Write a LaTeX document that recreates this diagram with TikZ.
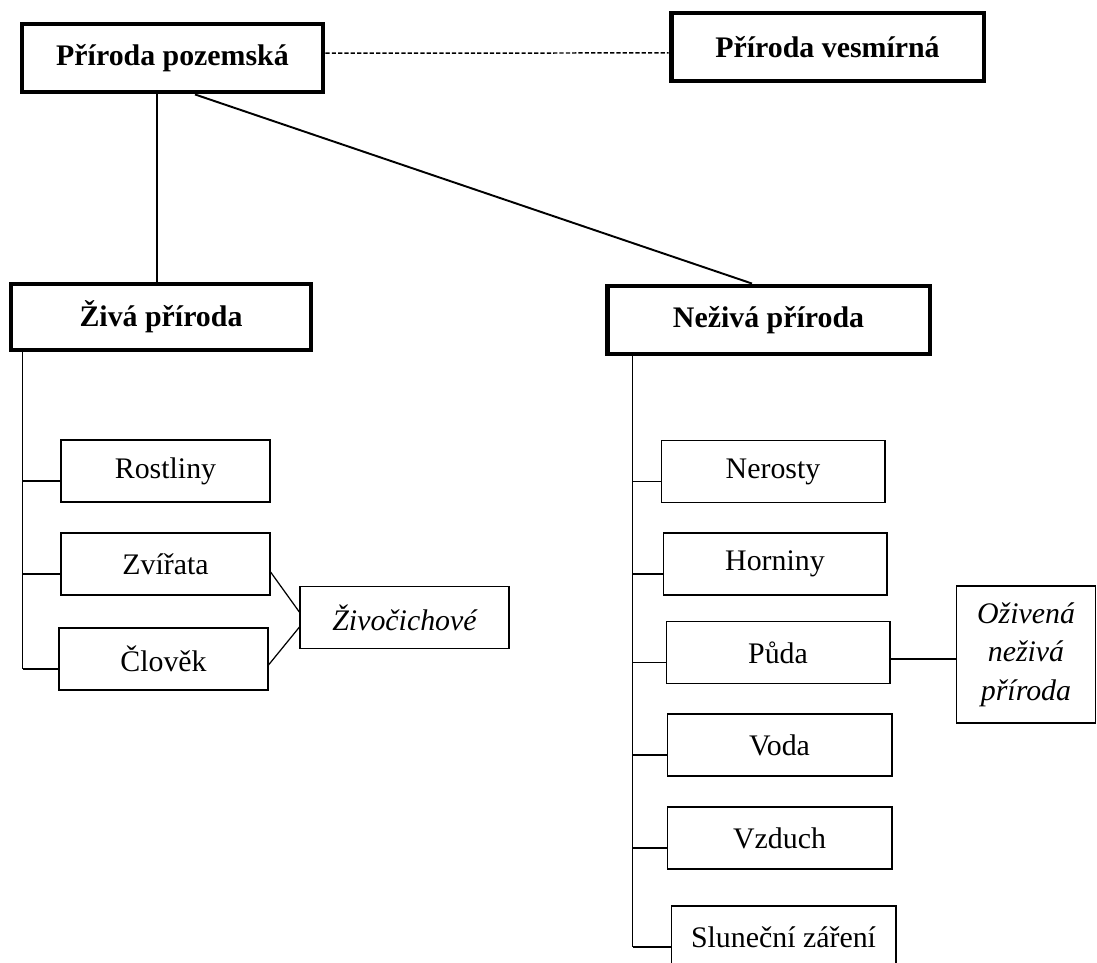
\documentclass[tikz,border=0pt]{standalone}
\usepackage{fontspec}
\setmainfont{Liberation Serif}
\begin{document}
\begin{tikzpicture}[x=0.02cm, y=-0.02cm,
    hlavni/.style={draw, line width=2.8pt, minimum height=1.36cm, font=\fontsize{17}{22}\selectfont\bfseries},
    polozka/.style={draw, line width=0.6pt, minimum width=4.18cm, minimum height=1.24cm, font=\fontsize{17}{22}\selectfont},
    poznamka/.style={polozka, font=\fontsize{17}{22}\selectfont\itshape},
    spoj/.style={line width=1.1pt},
    vetev/.style={line width=0.7pt}]

        \useasboundingbox (0,0) rectangle (1097,962);

        \node[hlavni, minimum width=6.02cm] (pozemska) at (172.5,58) {Příroda pozemská};
        \node[hlavni, minimum width=6.26cm] (vesmirna) at (827.5,47) {Příroda vesmírná};
        \node[hlavni, minimum width=6cm, minimum height=1.32cm] (ziva) at (161,317) {Živá příroda};
        \node[hlavni, minimum width=6.46cm] (neziva) at (768.5,320) {Neživá příroda};

        \node[polozka] (rostliny) at (165.5,471) {Rostliny};
        \node[polozka] (zvirata) at (165.5,564) {Zvířata};
        \node[polozka] (clovek) at (163.5,659) {Člověk};
        \node[poznamka] (zivocichove) at (404.5,617.5) {Živočichové};

        \node[polozka, minimum width=4.48cm] (nerosty) at (773,471.5) {Nerosty};
        \node[polozka, minimum width=4.48cm] (horniny) at (775,564) {Horniny};
        \node[polozka, minimum width=4.48cm] (puda) at (778,652.5) {Půda};
        \node[polozka, minimum width=4.5cm] (voda) at (779.5,745) {Voda};
        \node[polozka, minimum width=4.5cm] (vzduch) at (779.5,838) {Vzduch};
        \node[polozka, minimum width=4.5cm] (slunce) at (783.5,937) {Sluneční záření};
        \node[poznamka, minimum width=2.78cm, minimum height=2.74cm, align=center] (ozivena) at (1026,654.5) {Oživená\\neživá\\příroda};

        \draw[spoj, line width=0.85pt, dash pattern=on 2.4pt off 1.2pt] ([yshift=2.8pt]pozemska.east) -- ([yshift=-3.4pt]vesmirna.west);
        \draw[spoj] ([xshift=-9pt]pozemska.south) coordinate (p-v) -- (p-v |- ziva.north);
        \draw[spoj] ([xshift=12.8pt]pozemska.south) -- ([xshift=-9.4pt]neziva.north);

        \coordinate (zhore) at ([xshift=8pt]ziva.south west);
        \foreach \b in {rostliny,zvirata,clovek}
            \draw[vetev] ([yshift=-5.7pt]\b.west) coordinate (\b-v) -- (\b-v -| zhore);
        \draw[vetev] (zhore) -- (zhore |- clovek-v);

        \coordinate (nhore) at ([xshift=16pt]neziva.south west);
        \foreach \b in {nerosty,horniny,puda,voda,vzduch,slunce}
            \draw[vetev] ([yshift=-5.7pt]\b.west) coordinate (\b-v) -- (\b-v -| nhore);
        \draw[vetev] (nhore) -- (nhore |- slunce-v);

        \draw[vetev] ([yshift=-4.5pt]zvirata.east) -- ([yshift=3pt]zivocichove.west);
        \draw[vetev] ([yshift=-3.4pt]clovek.east) -- ([yshift=-5.4pt]zivocichove.west);
        \draw[vetev] ([yshift=-3.7pt]puda.east) coordinate (puda-p) -- (puda-p -| ozivena.west);

      \end{tikzpicture}
\end{document}
